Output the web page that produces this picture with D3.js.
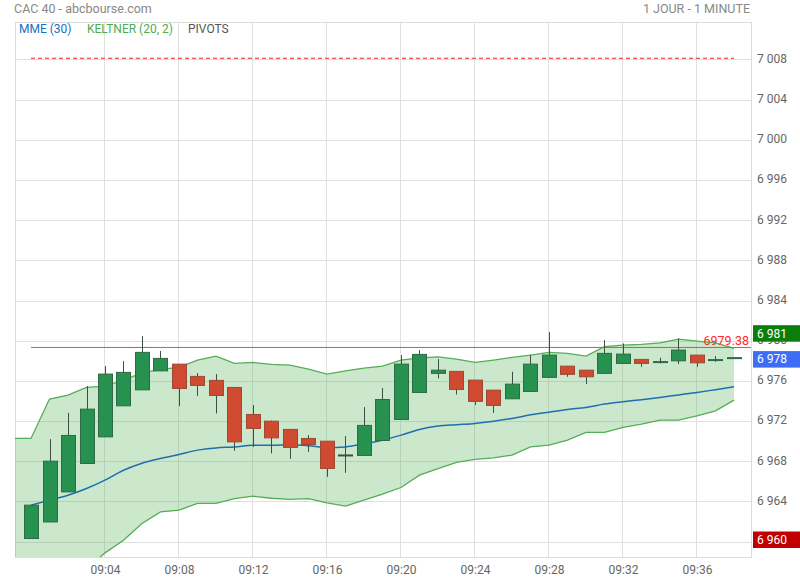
<!DOCTYPE html>
<html><head><meta charset="utf-8">
<script src="https://cdn.jsdelivr.net/npm/d3@7/dist/d3.min.js"></script>
<style>
html,body{margin:0;padding:0;background:#fff;}
svg{display:block;font-family:Roboto,"Noto Sans",sans-serif;}
</style></head>
<body><svg id="c" width="800" height="580"></svg>
<script>
// ---- data ----
const times = ["09:00","09:01","09:02","09:03","09:04","09:05","09:06","09:07","09:08","09:09",
"09:10","09:11","09:12","09:13","09:14","09:15","09:16","09:17","09:18","09:19",
"09:20","09:21","09:22","09:23","09:24","09:25","09:26","09:27","09:28","09:29",
"09:30","09:31","09:32","09:33","09:34","09:35","09:36","09:37","09:38"];
const open  = [6960.36,6962.01,6965.00,6967.83,6970.48,6973.57,6975.16,6977.05,6977.72,6976.50,
6976.10,6975.40,6972.71,6972.04,6971.22,6970.32,6970.05,6968.63,6968.63,6970.12,
6972.21,6974.90,6976.80,6977.00,6976.13,6975.13,6974.27,6975.00,6976.40,6977.52,
6977.12,6976.80,6977.79,6978.19,6977.85,6978.05,6978.62,6978.10,6978.32];
const high  = [6963.68,6970.25,6972.87,6975.53,6977.52,6978.02,6980.51,6979.02,6977.72,6976.83,
6976.73,6975.40,6973.64,6972.10,6971.22,6970.65,6970.05,6970.55,6973.44,6975.33,
6978.62,6979.12,6978.22,6977.00,6976.13,6975.13,6976.96,6978.65,6980.90,6977.52,
6977.12,6980.11,6979.78,6978.19,6978.35,6980.28,6978.62,6978.52,6978.32];
const low   = [6960.36,6962.01,6965.00,6967.83,6970.48,6973.57,6975.16,6977.05,6973.54,6974.56,
6972.81,6969.09,6969.48,6968.83,6968.29,6968.99,6966.50,6966.90,6968.63,6970.12,
6972.21,6974.90,6976.30,6974.70,6973.64,6972.87,6974.27,6975.00,6976.40,6976.46,
6975.73,6976.80,6977.79,6977.46,6977.79,6977.72,6977.46,6977.95,6978.32];
const close = [6963.68,6968.06,6970.62,6973.24,6976.73,6976.90,6978.89,6978.29,6975.30,6975.60,
6974.60,6969.98,6971.32,6970.38,6969.43,6969.72,6967.33,6968.63,6971.62,6974.20,
6977.72,6978.69,6977.12,6975.20,6974.01,6973.61,6975.73,6977.72,6978.62,6976.70,
6976.46,6978.79,6978.72,6977.79,6978.00,6979.12,6977.85,6978.15,6978.32];
const mme30 = [6963.68,6964.18,6964.67,6965.34,6966.17,6967.16,6967.86,6968.33,6968.73,6969.16,
6969.38,6969.48,6969.65,6969.65,6969.70,6969.60,6969.42,6969.48,6969.80,6970.15,
6970.65,6971.22,6971.55,6971.69,6971.82,6972.04,6972.31,6972.67,6972.94,6973.21,
6973.41,6973.74,6973.97,6974.18,6974.40,6974.65,6974.90,6975.18,6975.46];
const keltnerTimes = ["08:59"].concat(times);
const keltnerUpper = [6970.32,6970.32,6974.24,6974.63,6975.40,6975.53,6976.13,6976.85,6977.19,6977.39,6978.12,
6978.52,6977.79,6977.89,6977.69,6977.62,6977.22,6976.73,6977.05,6977.32,6977.52,
6978.12,6978.35,6978.45,6978.22,6977.89,6978.12,6978.39,6978.62,6978.89,6978.79,
6978.52,6979.46,6979.61,6979.68,6979.84,6980.21,6980.01,6979.84,6979.29];
const keltnerLower = [6956.50,6956.50,6955.90,6956.40,6957.35,6958.93,6960.19,6961.85,6963.01,6963.18,6963.85,
6963.85,6964.34,6964.57,6964.37,6964.25,6964.34,6963.91,6963.58,6964.18,6964.77,
6965.44,6966.67,6967.31,6967.93,6968.23,6968.39,6968.66,6969.48,6969.65,6970.15,
6970.92,6970.92,6971.42,6971.75,6972.14,6972.14,6972.57,6973.07,6974.14];
const pivotValues = [6979.38, 7008.17];
const pivotStyles = ["solid", "dashed"];
const yTicks = [6960,6964,6968,6972,6976,6980,6984,6988,6992,6996,7000,7004,7008];
const xTickLabels = ["09:04","09:08","09:12","09:16","09:20","09:24","09:28","09:32","09:36"];

// ---- setup ----
const W = 800, H = 580;
const M = {left: 15, right: 751, top: 22, bottom: 557};
const parseT = s => { const [h,m] = s.split(":").map(Number); return new Date(2024,0,2,h,m); };
const t0 = parseT("09:00");
const minute = 60000;
const x = d3.scaleTime()
  .domain([new Date(+t0 - 0.865*minute), new Date(+t0 + 38.92*minute)])
  .range([M.left, M.right]);
const y = d3.scaleLinear().domain([6958.52, 7011.78]).range([M.bottom, M.top]);
const loc = d3.formatLocale({decimal: ".", thousands: " ", grouping: [3], currency: ["", ""]});
const fmt = loc.format(",.0f");

const svg = d3.select("#c");
svg.append("defs").append("clipPath").attr("id","clip")
  .append("rect").attr("x",M.left).attr("y",M.top).attr("width",M.right-M.left).attr("height",M.bottom-M.top);

// grid
const grid = svg.append("g");
grid.selectAll("line.h").data(yTicks).join("line")
  .attr("x1",M.left).attr("x2",M.right).attr("y1",d=>y(d)).attr("y2",d=>y(d))
  .attr("stroke","#e0e0e0").attr("stroke-width",1).attr("shape-rendering","crispEdges");
grid.selectAll("line.v").data(xTickLabels).join("line")
  .attr("x1",d=>x(parseT(d))).attr("x2",d=>x(parseT(d))).attr("y1",M.top).attr("y2",M.bottom)
  .attr("stroke","#e0e0e0").attr("stroke-width",1).attr("shape-rendering","crispEdges");
svg.append("rect").attr("x",M.left).attr("y",M.top).attr("width",M.right-M.left).attr("height",M.bottom-M.top)
  .attr("fill","none").attr("stroke","#dcdcdc").attr("shape-rendering","crispEdges");

// y axis labels
const yAxis = d3.axisRight(y).tickValues(yTicks).tickSize(0).tickPadding(0).tickFormat(fmt);
const ya = svg.append("g").attr("transform",`translate(${M.right+6},-1.5)`).call(yAxis);
ya.select(".domain").remove();
ya.selectAll("text").attr("fill","#666").attr("font-size",12).attr("font-family","Roboto").attr("dy","0.32em");

// x axis labels
const xAxis = d3.axisBottom(x).tickValues(xTickLabels.map(parseT)).tickSize(0).tickPadding(0)
  .tickFormat(d3.timeFormat("%H:%M"));
const xa = svg.append("g").attr("transform",`translate(0,${M.bottom+8})`).call(xAxis);
xa.select(".domain").remove();
xa.selectAll("text").attr("fill","#666").attr("font-size",12).attr("font-family","Roboto");

const plot = svg.append("g").attr("clip-path","url(#clip)");

// keltner
const kData = keltnerTimes.map((t,i)=>({t:parseT(t), u:keltnerUpper[i], l:keltnerLower[i]}));
plot.append("path").datum(kData)
  .attr("d", d3.area().x(d=>x(d.t)).y0(d=>y(d.l)).y1(d=>y(d.u)))
  .attr("fill","rgba(76,175,80,0.29)");
plot.append("path").datum(kData).attr("d", d3.line().x(d=>x(d.t)).y(d=>y(d.u)))
  .attr("fill","none").attr("stroke","#55ad55").attr("stroke-width",1.3);
plot.append("path").datum(kData).attr("d", d3.line().x(d=>x(d.t)).y(d=>y(d.l)))
  .attr("fill","none").attr("stroke","#55ad55").attr("stroke-width",1.3);

// MME
plot.append("path").datum(times.map((t,i)=>({t:parseT(t), v:mme30[i]})))
  .attr("d", d3.line().x(d=>x(d.t)).y(d=>y(d.v)).curve(d3.curveMonotoneX))
  .attr("fill","none").attr("stroke","#1f6fae").attr("stroke-width",1.5);

// pivots
const xFirst = x(parseT(times[0])), xLast = x(parseT(times[times.length-1]));
pivotValues.forEach((v,i)=>{
  const dashed = pivotStyles[i] === "dashed";
  plot.append("line").attr("x1",xFirst).attr("x2", dashed ? xLast : M.right)
    .attr("y1",y(v)).attr("y2",y(v))
    .attr("stroke", dashed ? "#ee2222" : "#d9534f").attr("stroke-width",1)
    .attr("stroke-dasharray", dashed ? "4,3" : null);
});

// candles
const candles = times.map((t,i)=>({t:parseT(t), o:open[i], h:high[i], l:low[i], c:close[i]}));
const bw = 14;
const cg = plot.append("g");
candles.forEach(d=>{
  const up = d.c >= d.o;
  const fill = up ? "#27914f" : "#cf4a30";
  const stroke = up ? "#2d6b44" : "#9c4a34";
  const cx = Math.round(x(d.t)) + 0.5;
  if (d.h > d.l) {
    cg.append("line").attr("x1",cx).attr("x2",cx).attr("y1",y(d.h)).attr("y2",y(d.l))
      .attr("stroke","#3d4f40").attr("stroke-width",1);
  }
  const top = y(Math.max(d.o,d.c)), bot = y(Math.min(d.o,d.c));
  if (bot - top >= 2) {
    cg.append("rect").attr("x",cx - bw/2).attr("y",top).attr("width",bw).attr("height",bot-top)
      .attr("fill",fill).attr("stroke",stroke).attr("stroke-width",1);
  } else {
    cg.append("rect").attr("x",cx - bw/2 - 0.5).attr("y",(top+bot)/2 - 1).attr("width",bw+1).attr("height",2)
      .attr("fill", d.c===d.o && d.h>d.l && (d.h-d.c)>1 ? "#3d4f40" : stroke);
  }
});

// pivot label
svg.append("text").attr("x",M.right-2).attr("y",y(pivotValues[0])-2).attr("text-anchor","end")
  .attr("fill","#ff2a2a").attr("font-size",12.5).text(pivotValues[0].toFixed(2));

// right value boxes
const dayHigh = d3.max(high), dayLow = d3.min(low), last = close[close.length-1];
const boxes = [{v:dayHigh, c:"#0a7d0a"}, {v:last, c:"#3d6df7"}, {v:dayLow, c:"#c00000"}];
boxes.forEach(b=>{
  const yy = y(b.v) + 1;
  svg.append("rect").attr("x",M.right+2).attr("y",yy-8).attr("width",W-M.right-2).attr("height",16.5).attr("fill",b.c);
  svg.append("text").attr("x",M.right+6).attr("y",yy).attr("dy","0.36em").attr("fill","#fff")
    .attr("font-size",12).text(fmt(b.v));
});

// title & legend
svg.append("text").attr("x",14).attr("y",12.5).attr("fill","#888").attr("font-size",12.5).text("CAC 40 - abcbourse.com");
svg.append("text").attr("x",750).attr("y",12.5).attr("text-anchor","end").attr("fill","#888").attr("font-size",12.5).text("1 JOUR - 1 MINUTE");
const legend = [{t:"MME (30)", c:"#1a6fc4", x:19},{t:"KELTNER (20, 2)", c:"#4cad50", x:87},{t:"PIVOTS", c:"#555", x:188}];
legend.forEach(l=>svg.append("text").attr("x",l.x).attr("y",33).attr("fill",l.c).attr("font-size",12).text(l.t));
</script></body></html>
